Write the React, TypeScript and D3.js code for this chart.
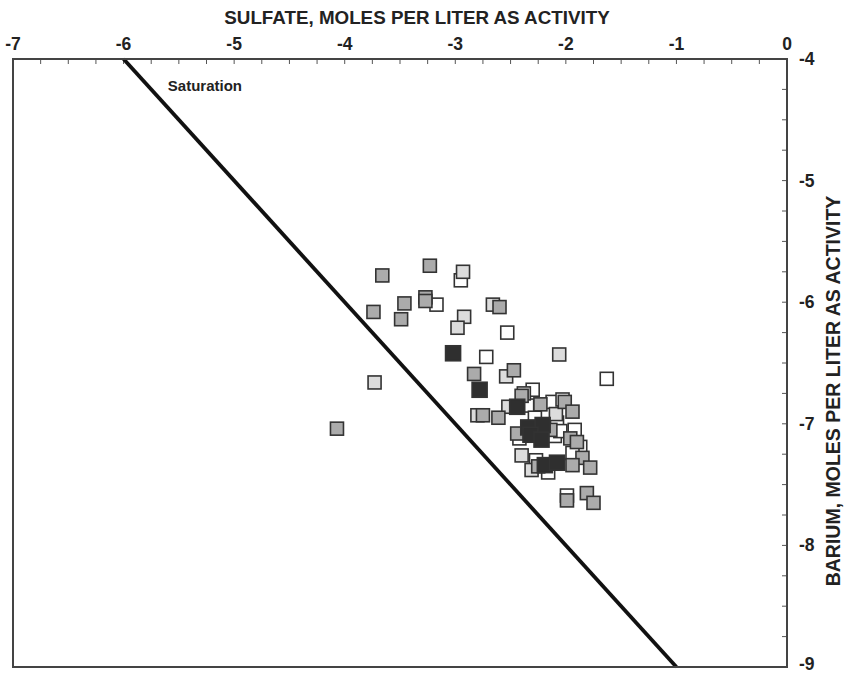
import React from 'react';
import * as d3 from 'd3';

// Axis labels and tick values
const xTitle = 'SULFATE, MOLES PER LITER AS ACTIVITY';
const yTitle = 'BARIUM, MOLES PER LITER AS ACTIVITY';
const xTickValues = [-7, -6, -5, -4, -3, -2, -1, 0];
const yTickValues = [-4, -5, -6, -7, -8, -9];
const saturationLabel = 'Saturation';

// Barite saturation line: log[Ba] + log[SO4] = -10
const saturationLine: [number, number][] = [[-6, -4], [-1, -9]];

// Samples, [log sulfate activity, log barium activity]
const whitePoints: [number, number][] = [
  [-2.95, -5.82], [-3.17, -6.02], [-2.53, -6.25], [-2.72, -6.45], [-1.63, -6.63],
  [-2.30, -6.72], [-2.12, -6.82], [-2.03, -6.80], [-2.08, -6.99], [-1.92, -7.05],
  [-1.87, -7.19], [-1.94, -7.24], [-1.99, -7.59], [-2.16, -7.40], [-2.42, -7.12],
  [-2.10, -7.10], [-2.35, -6.85], [-2.28, -6.95], [-2.05, -7.06], [-2.27, -7.30],
];
const lightPoints: [number, number][] = [
  [-2.93, -5.75], [-2.92, -6.12], [-2.98, -6.21], [-3.73, -6.66], [-2.54, -6.61],
  [-2.80, -6.93], [-2.66, -6.02], [-2.06, -6.43], [-2.52, -6.86], [-2.09, -6.92],
  [-2.40, -7.26], [-2.31, -7.38], [-2.38, -6.75],
];
const greyPoints: [number, number][] = [
  [-3.66, -5.78], [-3.23, -5.70], [-3.74, -6.08], [-3.46, -6.01], [-3.49, -6.14],
  [-3.27, -5.96], [-3.27, -5.99], [-4.07, -7.04], [-2.83, -6.59], [-2.47, -6.56],
  [-2.75, -6.93], [-2.61, -6.95], [-2.60, -6.04], [-2.40, -6.77], [-2.23, -6.84],
  [-2.01, -6.82], [-1.94, -6.90], [-2.44, -7.08], [-1.96, -7.12], [-1.90, -7.15],
  [-1.85, -7.28], [-1.94, -7.34], [-1.78, -7.36], [-2.25, -7.35], [-1.99, -7.63],
  [-1.81, -7.57], [-1.75, -7.65], [-2.14, -7.05],
];
const darkPoints: [number, number][] = [
  [-3.02, -6.42], [-2.78, -6.72], [-2.44, -6.86], [-2.34, -7.03], [-2.21, -7.01],
  [-2.32, -7.09], [-2.22, -7.13], [-2.19, -7.34], [-2.08, -7.32],
];

const W = 847;
const H = 674;
const FONT = '"Liberation Sans", Arial, sans-serif';

export default function App() {
  const left = 13;
  const right = 787;
  const top = 59;
  const bottom = 667;

  const x = d3.scaleLinear().domain([-7, 0]).range([left, right]);
  const y = d3.scaleLinear().domain([-4, -9]).range([top, bottom]);

  const xMinor = d3.range(-7, 0.001, 0.25);
  const yMinor = d3.range(-9, -3.999, 0.25);
  const line = d3.line<[number, number]>().x((d) => x(d[0])).y((d) => y(d[1]));

  const series = [
    { pts: whitePoints, fill: '#ffffff', size: 13 },
    { pts: lightPoints, fill: '#dcdcdc', size: 13 },
    { pts: greyPoints, fill: '#ababab', size: 13 },
    { pts: darkPoints, fill: '#2f2f2f', size: 15 },
  ];

  return (
    <svg
      width={W}
      height={H}
      style={{ position: 'absolute', left: 0, top: 0, background: '#fff' }}
      fontFamily={FONT}
      fontWeight="bold"
    >
      {/* minor ticks, inward */}
      {xMinor.map((v, i) => (
        <line key={'xt' + i} x1={x(v)} x2={x(v)} y1={top} y2={top + 5} stroke="#555" strokeWidth={1} />
      ))}
      {yMinor.map((v, i) => (
        <line key={'yt' + i} x1={right} x2={right - 5} y1={y(v)} y2={y(v)} stroke="#555" strokeWidth={1} />
      ))}

      {/* markers */}
      {series.map((s, si) =>
        s.pts.map((p, i) => (
          <rect
            key={si + '-' + i}
            x={x(p[0]) - s.size / 2}
            y={y(p[1]) - s.size / 2}
            width={s.size}
            height={s.size}
            fill={s.fill}
            stroke="#333"
            strokeWidth={1.6}
          />
        ))
      )}

      {/* saturation line */}
      <path d={line(saturationLine) || ''} stroke="#111" strokeWidth={3.8} fill="none" />
      <text x={x(-5.6)} y={y(-4.26)} fontSize={15} fill="#222">{saturationLabel}</text>

      {/* frame */}
      <rect x={left} y={top} width={right - left} height={bottom - top} fill="none" stroke="#444" strokeWidth={2} />

      {/* x axis labels (top) */}
      {xTickValues.map((v) => (
        <text key={'xl' + v} x={x(v)} y={top - 9} textAnchor="middle" fontSize={17.5} fill="#222">
          {v}
        </text>
      ))}
      <text x={417} y={24} textAnchor="middle" fontSize={18.8} fill="#222">{xTitle}</text>

      {/* y axis labels (right) */}
      {yTickValues.map((v) => (
        <text key={'yl' + v} x={right + 12} y={Math.min(y(v), 664)} dy="0.34em" textAnchor="start" fontSize={17.5} fill="#222">
          {v}
        </text>
      ))}
      <text
        transform={`translate(${840},${391}) rotate(-90)`}
        textAnchor="middle"
        fontSize={19.5}
        fill="#222"
      >
        {yTitle}
      </text>
    </svg>
  );
}
